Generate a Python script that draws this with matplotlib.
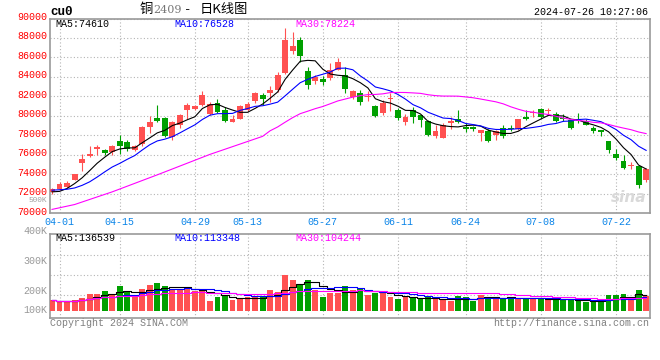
import matplotlib
matplotlib.use("Agg")
import matplotlib.pyplot as plt
import matplotlib.transforms as mtransforms
import numpy as np
import pandas as pd

# cu2409 daily bars, 2024-03-29 .. 2024-07-26
opens = [72150, 72470, 72700, 73390, 75170, 75930, 76650, 76470, 76270, 77430,
         77300, 76510, 77160, 78860, 79790, 79790, 77840, 79110, 80650, 80690,
         81100, 80170, 81330, 80580, 79380, 79730, 80580, 81540, 82120, 82360,
         82640, 84450, 86670, 87770, 84620, 83590, 83770, 83840, 84760, 84180,
         81890, 82360, 81920, 81000, 80300, 81720, 80650, 79380, 80650, 80070,
         79480, 77910, 77780, 79220, 79730, 78900, 78880, 78290, 78420, 78090,
         78760, 78760, 78630, 79890, 80300, 80690, 80480, 80240, 79790, 79550,
         79660, 79450, 78760, 78530, 77400, 76130, 75340, 74830, 74860, 73390]
highs = [72570, 73220, 73360, 74050, 76130, 76880, 76990, 76650, 76990, 78000,
         77550, 77000, 79000, 79950, 81100, 79890, 79480, 80240, 81370, 81150,
         82560, 81440, 81780, 80920, 80070, 81130, 81380, 82500, 82360, 83080,
         84520, 89070, 88620, 88110, 85030, 84180, 84070, 85380, 85950, 85030,
         82710, 82710, 82530, 81100, 81680, 82360, 80760, 80240, 80920, 80140,
         79550, 79040, 79220, 79900, 80580, 79220, 78940, 78530, 78700, 78530,
         79040, 79040, 79660, 80580, 80580, 80760, 80820, 80410, 80240, 79730,
         80300, 79660, 78970, 78530, 77400, 76580, 75960, 75270, 74930, 74700]
lows = [71950, 72400, 72600, 73390, 74320, 75750, 75960, 75950, 76000, 76100,
        76400, 76400, 76900, 78200, 79400, 77840, 77500, 78760, 79730, 80600,
        80990, 80070, 80300, 79380, 79380, 79660, 80500, 81300, 81100, 81440,
        82460, 84350, 86400, 85540, 82810, 83320, 83220, 83660, 84690, 82400,
        81780, 81100, 81540, 79890, 80070, 80510, 79630, 79040, 79220, 78870,
        77910, 77780, 77680, 78700, 79220, 78350, 78420, 77400, 77330, 77570,
        77780, 78420, 78530, 79550, 79890, 79800, 80070, 79380, 79450, 78700,
        79220, 79040, 78290, 77940, 76240, 75450, 74590, 74520, 72640, 73220]
closes = [72460, 73050, 73150, 74010, 75550, 76130, 76850, 76240, 76880, 76920,
          76650, 76920, 78860, 79380, 79480, 77940, 79380, 80140, 81100, 81000,
          82190, 81270, 80400, 79480, 79660, 81030, 81270, 82400, 81710, 82640,
          84250, 87770, 87190, 86160, 83150, 84000, 83490, 84690, 85540, 82810,
          82560, 81440, 82020, 79970, 81330, 81820, 79830, 79890, 79890, 79550,
          78020, 78460, 79040, 79450, 79380, 78700, 78700, 78530, 77400, 78420,
          77940, 78700, 79660, 79730, 80400, 79890, 80580, 79450, 79660, 78760,
          79450, 79110, 78420, 78350, 76540, 75680, 74660, 74930, 72950, 74520]
volumes = [89900, 75600, 81500, 89900, 109200, 140300, 140300, 168000, 131900, 207500,
           168000, 111700, 182300, 215900, 235200, 207500, 173900, 178900, 193200, 168000,
           165500, 81500, 117600, 123500, 89900, 109200, 111700, 111700, 123500, 173900,
           159600, 299900, 257900, 215900, 257900, 173900, 117600, 151200, 151200, 207500,
           173900, 178900, 131900, 151200, 151200, 117600, 98300, 111700, 111700, 94900,
           111700, 98300, 89900, 81500, 123500, 117600, 84000, 131900, 117600, 111700,
           103300, 98300, 103300, 109200, 100800, 109200, 89900, 94900, 89900, 89900,
           89900, 75600, 75600, 81500, 131900, 131900, 140300, 109200, 173900, 123500]

tick_idx = [1, 9, 19, 26, 36, 46, 55, 65, 75]
tick_labels = ["04-01", "04-15", "04-29", "05-13", "05-27",
               "06-11", "06-24", "07-08", "07-22"]

# start of the average lines, where the history lies before the chart
ma5_head = [72200, 72250, 72550, 73050]
ma10_head = [72370, 72420, 72470, 72600, 72870, 73230, 73720, 74250, 74750]
ma30_head_idx = [0, 3, 8, 14, 21, 28]
ma30_head = [70400, 70900, 72200, 73950, 76050, 77900]

ma_last = [74610, 76528, 78224]
vol_ma_last = [136539, 113348, 104244]
price_ticks = list(range(70000, 90001, 2000))
vol_labels = ["400K", "300K", "200K", "100K"]

UP, DOWN = "#ff5151", "#00a000"
MA_COLORS = ["black", "#0000ff", "#ff00ff"]
MONO = "Liberation Mono"
CJK = ["Noto Sans CJK SC", "DejaVu Sans"]

W, H = 660, 360
fig = plt.figure(figsize=(W / 100, H / 100), dpi=100)


def px_axes(l, t, r, b):
    return fig.add_axes([l / W, 1 - b / H, (r - l) / W, (b - t) / H])


def ftext(px, py, s, **kw):
    kw.setdefault("family", MONO)
    kw.setdefault("fontsize", 7.2)
    kw.setdefault("va", "center")
    return fig.text(px / W, 1 - py / H, s, **kw)


ax = px_axes(50, 18.5, 649.5, 213.3)
axv = px_axes(50, 234.3, 649.5, 318)

x = np.arange(len(closes))
o = np.array(opens, float)
c = np.array(closes, float)
colors = np.where(c >= o, UP, DOWN)

# candles
ax.vlines(x, lows, highs, colors=colors, lw=0.8, zorder=3)
ax.bar(x, np.maximum(np.abs(c - o), 90), bottom=np.minimum(o, c),
       width=0.78, color=colors, linewidth=0, zorder=3)

cs = pd.Series(c)
ma5 = cs.rolling(5).mean().to_numpy()
ma5[:4] = ma5_head
ma10 = cs.rolling(10).mean().to_numpy()
ma10[:9] = ma10_head
ma30 = cs.rolling(30).mean().to_numpy()
ma30_x = np.r_[ma30_head_idx, x[29:]]
ma30_y = np.r_[ma30_head, ma30[29:]]

ax.plot(x, ma5, color=MA_COLORS[0], lw=0.8, zorder=4)
ax.plot(x, ma10, color=MA_COLORS[1], lw=0.8, zorder=4)
ax.plot(ma30_x, ma30_y, color=MA_COLORS[2], lw=0.8, zorder=4)

# volume
axv.bar(x, volumes, width=0.78, color=colors, linewidth=0, zorder=3)
vs = pd.Series(volumes, dtype=float)
for win, col in zip([5, 10, 30], MA_COLORS):
    axv.plot(x, vs.rolling(win, min_periods=1).mean(), color=col, lw=0.8,
             drawstyle="steps-mid", zorder=4)

xlim = (-0.27, 79.45)
grid_kw = dict(color="#b4b4b4", linestyle=(0, (1, 2)), lw=0.8)
for a in (ax, axv):
    a.set_xlim(*xlim)
    a.set_xticks(tick_idx)
    a.grid(True, **grid_kw)
    a.set_axisbelow(True)
    for s in a.spines.values():
        s.set_color("#9a9a9a")
        s.set_linewidth(1.2)
    a.tick_params(length=0)

ax.set_ylim(70000, 90000)
ax.set_yticks(price_ticks)
ax.set_yticklabels([str(v) for v in price_ticks], family=MONO, fontsize=7.2,
                   color="#ff0000")
ax.tick_params(axis="y", pad=2.2)
shift = mtransforms.ScaledTranslation(0, 0.025, fig.dpi_scale_trans)
for lab in ax.get_yticklabels():
    lab.set_transform(lab.get_transform() + shift)
ax.set_xticklabels(tick_labels, family=MONO, fontsize=7.2, color="#0a84e8")
ax.tick_params(axis="x", pad=2.6)

axv.set_ylim(-61300, 641800)
axv.set_yticks([132000, 300000, 468000])
axv.set_yticklabels([])
axv.set_xticklabels([])
for lab, f in zip(vol_labels, [1.04, 0.677, 0.326, 0.096]):
    axv.text(-0.005, f, lab, transform=axv.transAxes, ha="right", va="center",
             family=MONO, fontsize=7.2, color="#999999")
ftext(47, 200, "500K", ha="right", color="#a0a0a0", fontsize=5.6)

# watermark
ax.text(0.965, 0.08, "sina", transform=ax.transAxes, ha="center", va="center",
        fontsize=11, fontweight="bold", style="italic", color="#d9d9d9",
        family="DejaVu Sans", zorder=1)

# header texts
ftext(50, 12, "cu0", fontsize=9, fontweight="bold")
ftext(140, 10, "铜", family=CJK, fontsize=9.5)
ftext(153, 10, "2409", family="DejaVu Serif", fontsize=8, color="#777777")
ftext(184, 10, "-", family=MONO, fontsize=9)
ftext(200, 10, "日K线图", family=CJK, fontsize=9.5)
ftext(648, 12, "2024-07-26 10:27:06", ha="right")

labels_x = [55, 174, 295]
for px, name, val, col in zip(labels_x, ["MA5", "MA10", "MA30"], ma_last, MA_COLORS):
    ftext(px, 24, f"{name}:{val}", color=col)
for px, name, val, col in zip(labels_x, ["MA5", "MA10", "MA30"], vol_ma_last, MA_COLORS):
    ftext(px, 238, f"{name}:{val}", color=col)

ftext(50, 323.5, "Copyright 2024 SINA.COM", color="#808080")
ftext(649, 323.5, "http://finance.sina.com.cn", ha="right", color="#808080")

fig.savefig("out.png", dpi=100)
